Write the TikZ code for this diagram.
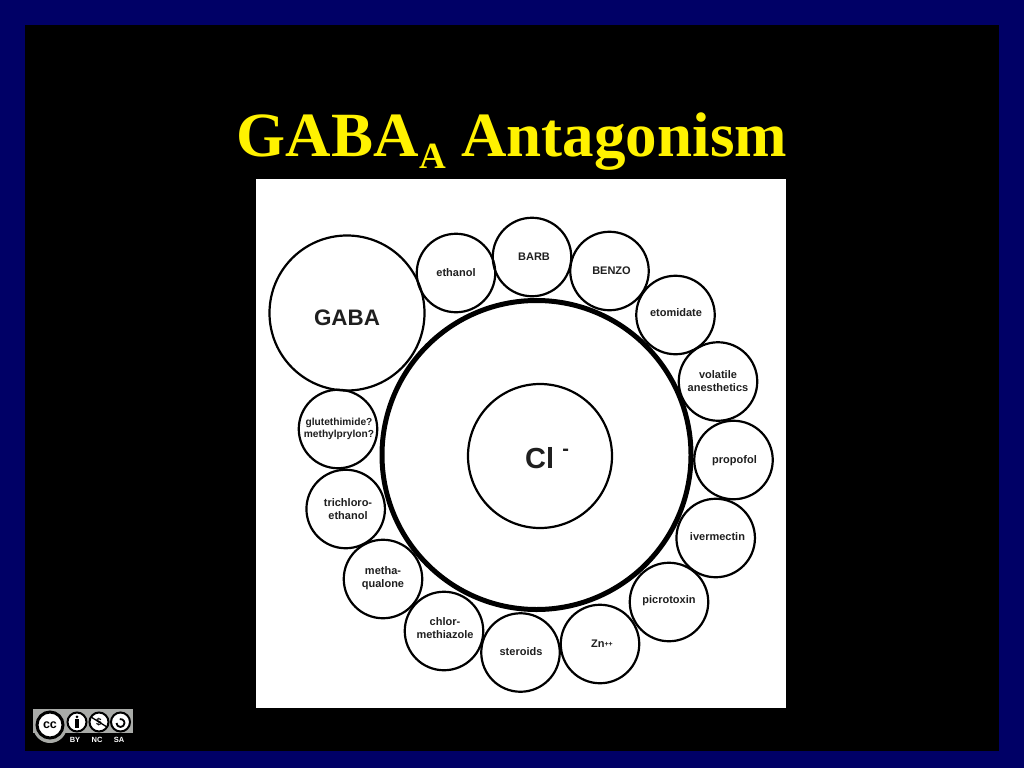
\documentclass[tikz,border=0pt]{standalone}
\usepackage{fontspec}
\usetikzlibrary{calc}
\setmainfont{Liberation Serif}
\newfontfamily\labfont{Liberation Sans}
\definecolor{navyframe}{HTML}{000066}
\definecolor{ccgray}{HTML}{A9ABA8}
\tikzset{
  ring/.style={circle,draw=black,line width=2.2pt,minimum size=78.5pt,inner sep=0pt,fill=none},
  lab/.style={font=\labfont\bfseries\fontsize{11}{13}\selectfont,text=black!88,align=center,inner sep=0pt},
  titletext/.style={font=\bfseries\fontsize{63}{70}\selectfont,text=yellow,anchor=base,inner sep=0pt},
  ccring/.style={circle,draw=black,line width=2pt,fill=white,inner sep=0pt,minimum size=19pt},
  cclab/.style={font=\labfont\bfseries\fontsize{7.5}{8}\selectfont,text=white,inner sep=0pt},
}
\begin{document}
\begin{tikzpicture}[x=1pt,y=-1pt]
\useasboundingbox (0,0) rectangle (1024,768);
\fill[navyframe] (0,0) rectangle (1024,768);
\fill[black] (25,25) rectangle (999,751);
\node[titletext] (title) at (512,156) {GABA\raisebox{-0.2em}{\fontsize{37}{38}\selectfont A} Antagonism};
\fill[white] (256,179) rectangle (786,708);
% channel
\node[circle,draw=black,line width=5pt,minimum size=309pt,inner sep=0pt] (pore) at (536.5,455) {};
\node[circle,draw=black,line width=2.2pt,minimum size=144pt,inner sep=0pt] (cl) at (540,456) {};
\node[lab,font=\labfont\bfseries\fontsize{29}{30}\selectfont] (cltext) at (547,458) {Cl\,\raisebox{0.45em}{\fontsize{20}{20}\selectfont\,-}};
% GABA
\node[ring,minimum size=155pt] (gaba) at (347,313) {};
\node[lab,font=\labfont\bfseries\fontsize{22.4}{24}\selectfont] (gabatext) at (347,317.5) {GABA};
% rings
\node[ring] (ethanol) at (456,273) {};
\node[lab] (ethanoltext) at (456,272.5) {ethanol};
\node[ring] (barb) at (532,257) {};
\node[lab] (barbtext) at (534,257) {BARB};
\node[ring] (benzo) at (609.5,271) {};
\node[lab] (benzotext) at (611.5,270.5) {BENZO};
\node[ring] (etomidate) at (675.5,315) {};
\node[lab] (etomidatetext) at (676,313) {etomidate};
\node[ring] (volatile) at (718,381.5) {};
\node[lab] (volatiletext) at (718,381) {volatile\\anesthetics};
\node[ring] (propofol) at (733.5,460) {};
\node[lab] (propofoltext) at (734.5,461) {propofol};
\node[ring] (ivermectin) at (715.7,538) {};
\node[lab] (ivermectintext) at (717.5,537) {ivermectin};
\node[ring] (picrotoxin) at (669,602) {};
\node[lab] (picrotoxintext) at (669,601) {picrotoxin};
\node[ring] (zn) at (600,644) {};
\node[lab] (zntext) at (602,644) {Zn\raisebox{0.2ex}{\fontsize{7}{7}\selectfont ++}};
\node[ring] (steroids) at (520.5,652.5) {};
\node[lab] (steroidstext) at (521,652) {steroids};
\node[ring] (chlor) at (444,631) {};
\node[lab] (chlortext) at (445,628) {chlor-\\methiazole};
\node[ring] (metha) at (383,579) {};
\node[lab] (methatext) at (383,578) {metha-\\qualone};
\node[ring] (trichloro) at (345.7,509) {};
\node[lab] (trichlorotext) at (348,509) {trichloro-\\ethanol};
\node[ring] (gluta) at (338,429) {};
\node[lab,font=\labfont\bfseries\fontsize{10.2}{12.5}\selectfont] (glutatext) at (339,429) {glutethimide?\\methylprylon?};
% licence badge
\fill[ccgray] (33,709) rectangle (133,733);
\fill[ccgray] (50,726) circle (17);
\node[circle,draw=black,line width=3pt,fill=white,inner sep=0pt,minimum size=26pt,font=\labfont\bfseries\fontsize{12.5}{13}\selectfont,text=black] (cc) at (50,725) {cc};
\node[ccring] (by) at (77,722) {};
\fill[black] ($(by.center)+(0,-5.2)$) circle (1.5);
\fill[black] ($(by.center)+(-2,-3)$) rectangle ($(by.center)+(2,6)$);
\node[ccring,font=\labfont\bfseries\fontsize{10}{10}\selectfont,text=black] (nc) at (99,722) {\$};
\draw[black,line width=1.3pt] ($(nc.center)+(-8,-5)$) -- ($(nc.center)+(8,5)$);
\node[ccring] (sa) at (120.5,722) {};
\draw[black,line width=1.8pt] ($(sa.center)+(-4,1)$) arc[start angle=180,end angle=-100,radius=4];
\node[cclab] (bytext) at (75,740) {BY};
\node[cclab] (nctext) at (97,740) {NC};
\node[cclab] (satext) at (119,740) {SA};
\end{tikzpicture}
\end{document}
